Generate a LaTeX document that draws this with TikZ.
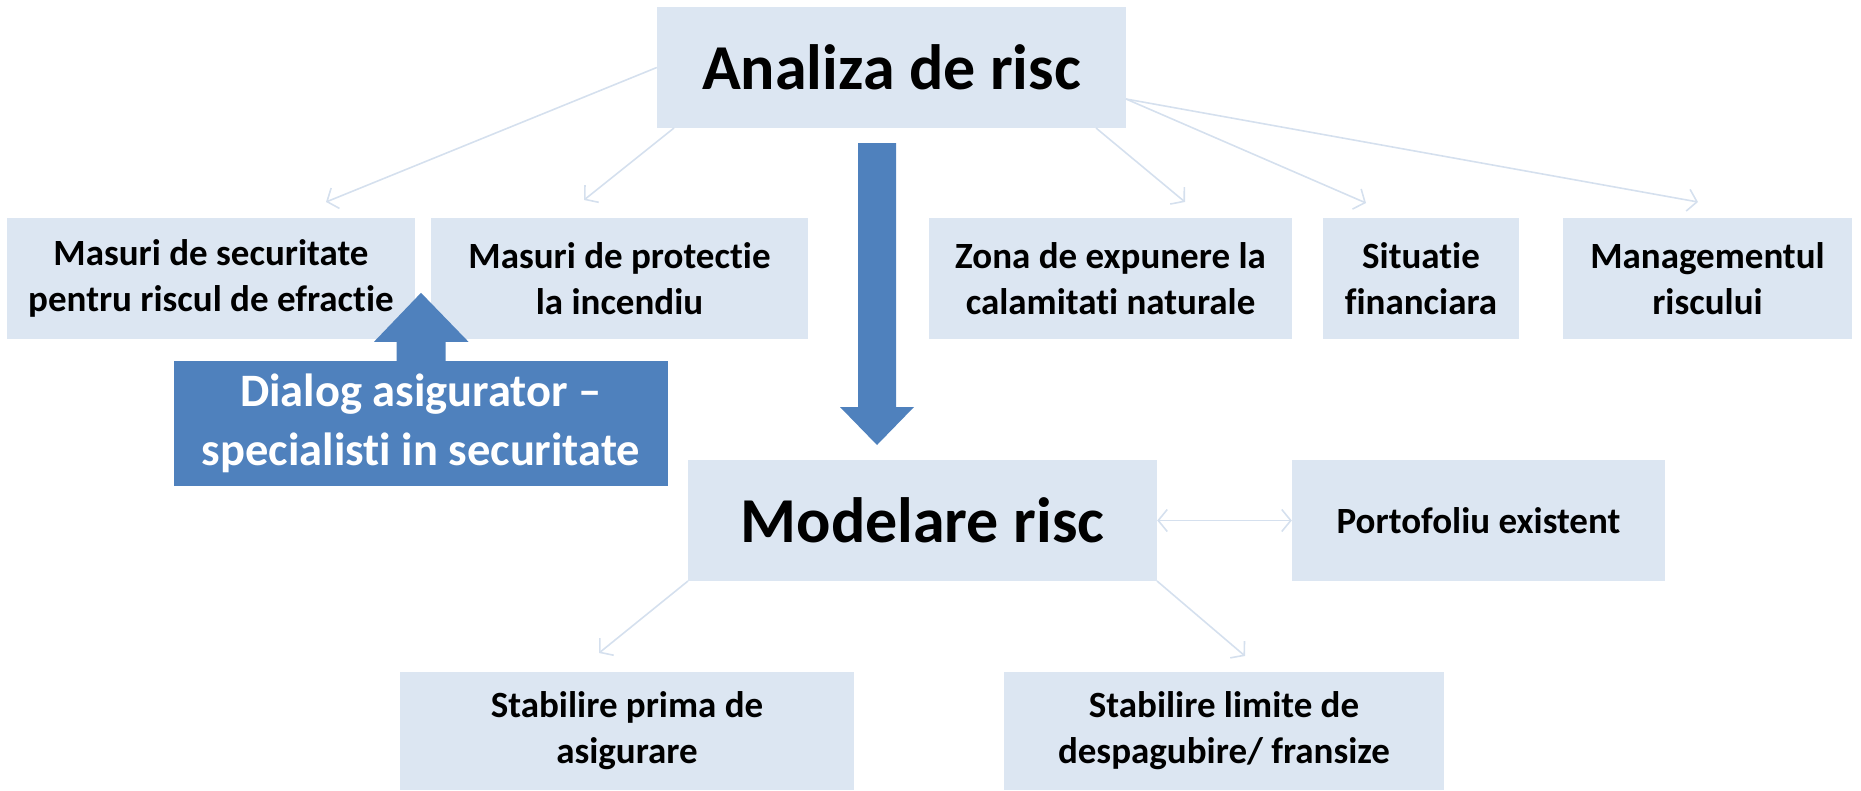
\documentclass[tikz,border=0pt]{standalone}
\usepackage{fontspec}
\setmainfont{Carlito}[Ligatures={NoCommon,NoRequired,NoContextual}]
\usetikzlibrary{arrows.meta,calc}
\definecolor{boxfill}{HTML}{DCE6F2}
\definecolor{darkblue}{HTML}{4F81BD}
\definecolor{lineblue}{HTML}{D5E0EE}
\begin{document}
\begin{tikzpicture}[x=1pt,y=-1pt,
  box/.style={rectangle, fill=boxfill, inner sep=0pt, align=center, text=black,
    font=\bfseries\fontsize{37}{46}\selectfont},
  bigbox/.style={box, font=\bfseries\fontsize{64}{72}\selectfont},
  darkbox/.style={rectangle, fill=darkblue, inner sep=0pt, align=center, text=white,
    font=\bfseries\fontsize{46.5}{59}\selectfont},
  conn/.style={draw=lineblue, line width=1.6pt, -{Straight Barb[length=9pt,width=22pt,line width=1.6pt]}},
  dconn/.style={draw=lineblue, line width=1.6pt, {Straight Barb[length=9pt,width=22pt,line width=1.6pt]}-{Straight Barb[length=9pt,width=22pt,line width=1.6pt]}},
  blockarrow/.style={fill=darkblue, draw=none}
]
\useasboundingbox (0,0) rectangle (1861,790);

\node[bigbox, minimum width=469, minimum height=121] (analiza) at (891.5,67.5) {Analiza de risc};
\node[box, minimum width=408, minimum height=121] (sec) at (211,278.5) {Masuri de securitate\\pentru riscul de efractie};
\node[box, minimum width=377, minimum height=121] (prot) at (619.5,278.5) {Masuri de protectie\\la incendiu};
\node[box, minimum width=363, minimum height=121] (zona) at (1110.5,278.5) {Zona de expunere la\\calamitati naturale};
\node[box, minimum width=196, minimum height=121] (sit) at (1421,278.5) {Situatie\\financiara};
\node[box, minimum width=289, minimum height=121] (man) at (1707.5,278.5) {Managementul\\riscului};
\node[bigbox, minimum width=469, minimum height=121] (model) at (922.5,520.5) {Modelare risc};
\node[box, minimum width=373, minimum height=121] (port) at (1478.5,520.5) {Portofoliu existent};
\node[box, minimum width=454, minimum height=118] (prima) at (627,731) {Stabilire prima de\\asigurare};
\node[box, minimum width=440, minimum height=118] (lim) at (1224,731) {Stabilire limite de\\despagubire/ fransize};
\node[darkbox, minimum width=494, minimum height=125] (dialog) at (421,423.5) {Dialog asigurator –\\specialisti in securitate};

% connector end points
\coordinate (e1) at (326,202);
\coordinate (e2) at (584,200);
\coordinate (e3) at (1185,202);
\coordinate (e4) at (1366,203);
\coordinate (e5) at (1698,202);
\coordinate (e6) at (599,653);
\coordinate (e7) at (1245,656);
\coordinate (s2) at (674,128);
\coordinate (s3) at (1096,128);
\coordinate (s4) at (1126,99);
\coordinate (s6) at (688,581);
\coordinate (s7) at (1157,581);

\draw[conn] (analiza.west) -- (e1);
\draw[conn] (s2) -- (e2);
\draw[conn] (s3) -- (e3);
\draw[conn] (s4) -- (e4);
\draw[conn] (s4) -- (e5);
\draw[conn] (s6) -- (e6);
\draw[conn] (s7) -- (e7);
\draw[dconn] (model.east) -- (port.west);

% up block arrow from dialog box
\fill[blockarrow] ($(dialog.north)+(-24.5,0)$) -- ++(0,-19) -- ++(-22.5,0)
  -- ($(dialog.north)+(0,-68)$) -- ($(dialog.north)+(47.5,-19)$) -- ++(-23,0)
  -- ($(dialog.north)+(24.5,0)$) -- cycle;

% down block arrow from analiza to modelare
\coordinate (dtip) at (877,445);
\fill[blockarrow] ($(dtip)+(-19,-302)$) -- ($(dtip)+(19,-302)$) -- ($(dtip)+(19,-38)$)
  -- ($(dtip)+(37,-38)$) -- (dtip) -- ($(dtip)+(-37,-38)$) -- ($(dtip)+(-19,-38)$) -- cycle;
\end{tikzpicture}
\end{document}
